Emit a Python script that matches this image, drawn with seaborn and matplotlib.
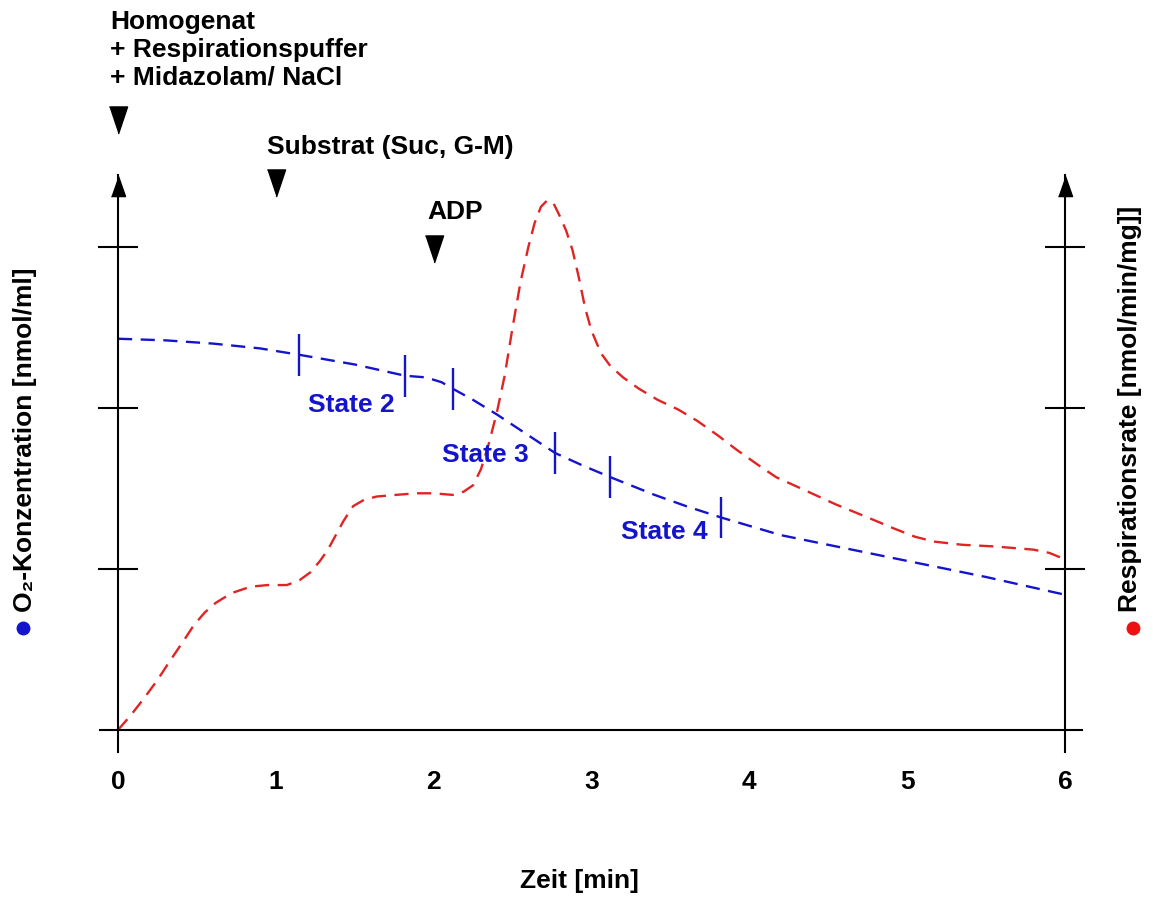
import numpy as np
import pandas as pd
import matplotlib
matplotlib.use('Agg')
import matplotlib.pyplot as plt
import seaborn as sns

sns.set_theme(style='white')
plt.rcParams['font.family'] = ['Liberation Sans', 'DejaVu Sans']
plt.rcParams['font.weight'] = 'bold'
plt.rcParams['text.color'] = 'black'
plt.rcParams['axes.labelcolor'] = 'black'
plt.rcParams['xtick.color'] = 'black'
plt.rcParams['ytick.color'] = 'black'

# O2 concentration (blue), x in min
o2_time = [0, 0.3, 0.6, 0.9, 1.15, 1.5, 1.82, 1.95, 2.05, 2.12, 2.25, 2.4, 2.6, 2.77,
           2.95, 3.12, 3.4, 3.6, 3.82, 4.2, 4.6, 5.0, 5.5, 6.0]
o2_value = [2.43, 2.42, 2.40, 2.37, 2.33, 2.27, 2.20, 2.19, 2.16, 2.12, 2.05, 1.96, 1.83, 1.72,
            1.64, 1.57, 1.46, 1.39, 1.32, 1.21, 1.13, 1.05, 0.95, 0.84]

# respiration rate (red)
resp_time = [0, 0.08, 0.16, 0.25, 0.33, 0.42, 0.48, 0.55, 0.62, 0.72, 0.84, 0.95, 1.07,
             1.15, 1.22, 1.28, 1.33, 1.38, 1.43, 1.49, 1.56, 1.64, 1.76, 1.89, 2.0, 2.12,
             2.19, 2.25, 2.3, 2.35, 2.4, 2.45, 2.5, 2.55, 2.6, 2.64, 2.68, 2.72, 2.76, 2.8,
             2.84, 2.88, 2.92, 2.96, 3.0, 3.06, 3.12, 3.2, 3.3, 3.42, 3.55, 3.67, 3.8, 3.92,
             4.05, 4.17, 4.35, 4.55, 4.75, 4.92, 5.05, 5.17, 5.35, 5.55, 5.8, 5.9, 6.0]
resp_value = [0, 0.09, 0.19, 0.31, 0.43, 0.56, 0.65, 0.73, 0.79, 0.85, 0.89, 0.90, 0.90,
              0.93, 0.98, 1.05, 1.12, 1.21, 1.30, 1.39, 1.43, 1.45, 1.46, 1.47, 1.47, 1.46,
              1.48, 1.52, 1.62, 1.78, 1.97, 2.20, 2.50, 2.78, 3.00, 3.15, 3.25, 3.29, 3.27, 3.19,
              3.10, 2.98, 2.81, 2.62, 2.48, 2.34, 2.26, 2.19, 2.12, 2.05, 1.99, 1.92, 1.83, 1.74,
              1.65, 1.57, 1.49, 1.40, 1.32, 1.25, 1.20, 1.17, 1.15, 1.14, 1.12, 1.10, 1.06]

# state boundary marks on the O2 trace
mark_time = [1.15, 1.82, 2.12, 2.77, 3.12, 3.82]
mark_value = [2.33, 2.20, 2.12, 1.72, 1.57, 1.32]

state_labels = ['State 2', 'State 3', 'State 4']
state_time = [1.48, 2.33, 3.46]
state_value = [2.02, 1.71, 1.23]

event_labels = ['Homogenat\n+ Respirationspuffer\n+ Midazolam/ NaCl',
                'Substrat (Suc, G-M)', 'ADP']
event_time = [0, 1, 2]

x_ticks = [0, 1, 2, 3, 4, 5, 6]
y_ticks = [1, 2, 3]

BLUE = '#1414cc'
RED = '#e02424'
FS = 19

fig = plt.figure(figsize=(11.53, 8.97), dpi=100)
ax = fig.add_axes([100 / 1153, 145 / 897, 982 / 1153, 577 / 897])
ax.set_xlim(-0.114, 6.108)
ax.set_ylim(-0.137, 3.447)

df_o2 = pd.DataFrame({'t': o2_time, 'v': o2_value})
df_resp = pd.DataFrame({'t': resp_time, 'v': resp_value})
sns.lineplot(data=df_resp, x='t', y='v', ax=ax, color=RED, lw=1.7,
             sort=False, estimator=None)
sns.lineplot(data=df_o2, x='t', y='v', ax=ax, color=BLUE, lw=1.7,
             sort=False, estimator=None)
for ln in ax.lines:
    ln.set_dashes((6, 3.6))

ax.vlines(mark_time, np.array(mark_value) - 0.13, np.array(mark_value) + 0.13,
          color=BLUE, lw=1.7)

for lab, t, v in zip(state_labels, state_time, state_value):
    ax.text(t, v, lab, color=BLUE, fontsize=FS, fontweight='bold',
            ha='center', va='center', zorder=5)

# axes drawn as crossing spines
ax.spines['top'].set_visible(False)
ax.spines['left'].set_position(('data', 0))
ax.spines['right'].set_position(('data', 6))
ax.spines['bottom'].set_position(('data', 0))
for side in ['left', 'right', 'bottom']:
    ax.spines[side].set_color('black')
    ax.spines[side].set_linewidth(1.5)

ax.set_xticks(x_ticks)
ax.set_xticklabels([str(x) for x in x_ticks], fontsize=FS, fontweight='bold', color='black')
ax.set_yticks(y_ticks)
ax.set_yticklabels([])
ax.tick_params(axis='both', direction='inout', length=29, width=1.5, color='black')
ax.tick_params(axis='x', pad=14)
ax.tick_params(axis='y', left=True, right=True, labelleft=False, labelright=False)
ax.set_xlabel('')
ax.set_ylabel('')
fig.text(579 / 1153, 1 - 881 / 897, 'Zeit [min]', fontsize=FS, fontweight='bold',
         ha='center', va='center')

# arrow heads on the y axes
up = [(-0.7, -1), (0.7, -1), (0, 1)]
ax.plot([0, 6], [3.38, 3.38], ls='none', marker=up, ms=14.5, color='black', clip_on=False)

# event triangles
down = [(-0.67, 1), (0.67, 1), (0, -1)]
ax.plot(event_time, [3.79, 3.40, 2.99], ls='none', marker=down, ms=19.5,
        color='black', clip_on=False)

fig.text(110 / 1153, 1 - 10 / 897, event_labels[0], fontsize=FS, fontweight='bold',
         ha='left', va='top', linespacing=1.2)
fig.text(267 / 1153, 1 - 147 / 897, event_labels[1], fontsize=FS, fontweight='bold',
         ha='left', va='center')
fig.text(427 / 1153, 1 - 212 / 897, event_labels[2], fontsize=FS, fontweight='bold',
         ha='left', va='center')

# axis titles with coloured dots
fig.text(25 / 1153, 1 - 612 / 897, 'O\u2082-Konzentration [nmol/ml]', fontsize=FS,
         fontweight='bold', rotation=90, ha='center', va='bottom')
fig.text(1130 / 1153, 1 - 612 / 897, 'Respirationsrate [nmol/min/mg]]', fontsize=FS,
         fontweight='bold', rotation=90, ha='center', va='bottom')
fig.add_artist(plt.Line2D([23 / 1153], [1 - 628 / 897], marker='o', ms=9, color=BLUE,
                          transform=fig.transFigure))
fig.add_artist(plt.Line2D([1133 / 1153], [1 - 628 / 897], marker='o', ms=9, color='#ee1111',
                          transform=fig.transFigure))

fig.savefig('out.png', dpi=100, facecolor='white')
